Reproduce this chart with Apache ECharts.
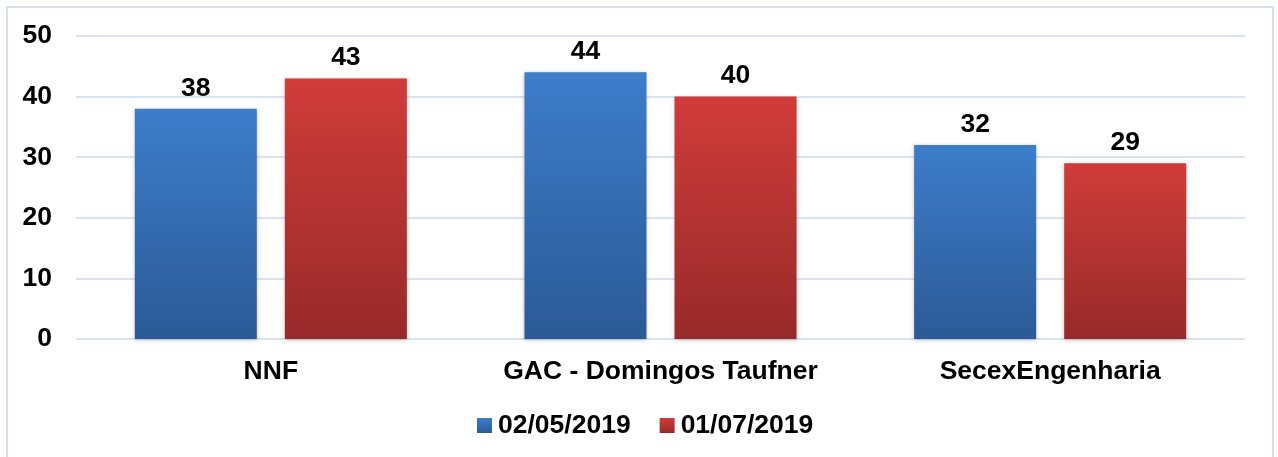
<!DOCTYPE html>
<html>
<head>
<meta charset="utf-8">
<script src="https://cdn.jsdelivr.net/npm/echarts@6/dist/echarts.min.js"></script>
<style>
  html, body { margin: 0; padding: 0; background: #fff; }
  #chart { width: 1278px; height: 457px; }
</style>
</head>
<body>
<div id="chart"></div>
<script>
const categories = ['NNF', 'GAC - Domingos Taufner', 'SecexEngenharia'];
const seriesNames = ['02/05/2019', '01/07/2019'];
const firstValues = [38, 44, 32];
const secondValues = [43, 40, 29];

const font = 'Liberation Sans, Arial, sans-serif';
const fs = 26.5;

const grad = (top, bottom) => new echarts.graphic.LinearGradient(0, 0, 0, 1, [
  {offset: 0, color: top},
  {offset: 1, color: bottom}
]);

const barSeries = (name, data, top, bottom) => ({
  name: name,
  type: 'bar',
  data: data,
  barWidth: 122,
  barGap: '23%',
  itemStyle: {
    color: grad(top, bottom),
    shadowColor: 'rgba(0,0,0,0.25)',
    shadowBlur: 4,
    shadowOffsetY: 1
  },
  label: {
    show: true,
    position: 'top',
    distance: 7,
    color: '#000',
    fontFamily: font,
    fontWeight: 'bold',
    fontSize: fs
  }
});

const chart = echarts.init(document.getElementById('chart'));

chart.setOption({
  animation: false,
  graphic: [{
    type: 'rect',
    shape: {x: 7, y: 7, width: 1266, height: 460},
    style: {fill: 'none', stroke: '#d5e1f1', lineWidth: 2},
    silent: true
  }],
  grid: {left: 76, right: 33, top: 36, bottom: 118},
  legend: {
    bottom: 13,
    left: 472,
    itemWidth: 15,
    itemHeight: 15,
    itemGap: 29,
    icon: 'rect',
    textStyle: {
      color: '#000',
      fontFamily: font,
      fontWeight: 'bold',
      fontSize: fs,
      padding: [0, 0, 0, 1]
    },
    data: seriesNames
  },
  xAxis: {
    type: 'category',
    data: categories,
    axisLine: {show: false},
    axisTick: {show: false},
    axisLabel: {
      interval: 0,
      color: '#000',
      fontFamily: font,
      fontWeight: 'bold',
      fontSize: fs,
      margin: 19
    }
  },
  yAxis: {
    type: 'value',
    min: 0,
    max: 50,
    interval: 10,
    axisLine: {show: false},
    axisTick: {show: false},
    splitLine: {lineStyle: {color: '#d9e4f3', width: 2}},
    axisLabel: {
      color: '#000',
      fontFamily: font,
      fontWeight: 'bold',
      fontSize: fs,
      margin: 24
    }
  },
  series: [
    barSeries(seriesNames[0], firstValues, '#3d7dca', '#2b5a96'),
    barSeries(seriesNames[1], secondValues, '#d03c3a', '#972a29')
  ]
});
</script>
</body>
</html>
